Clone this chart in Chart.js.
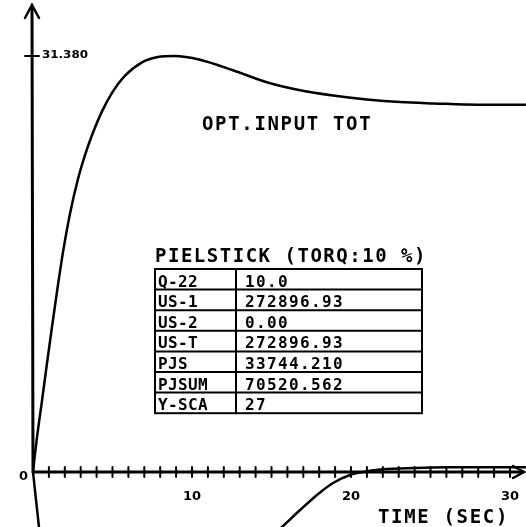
<!DOCTYPE html>
<html>
<head>
<meta charset="utf-8">
<script src="https://cdn.jsdelivr.net/npm/chart.js@4.4.0/dist/chart.umd.min.js"></script>
<style>
  html, body { margin: 0; padding: 0; background: #fff; }
  #wrap { width: 526px; height: 527px; }
</style>
</head>
<body>
<div id="wrap"><canvas id="plot" width="526" height="527"></canvas></div>
<script>
// curve 1 : OPT.INPUT TOT
const timeInput = [0, 0.13, 0.25, 0.57, 0.88, 1.19, 1.51, 1.89, 2.33, 2.83, 3.27, 3.71, 4.34, 4.97, 5.79, 6.86, 7.86, 8.9, 10.5, 12.58, 14.7, 16.8, 18.87, 21, 23.1, 25.2, 28, 31];
const optInputTot = [0, 1.4, 2.6, 5.4, 8.2, 10.9, 13.6, 16.6, 19.5, 22.1, 23.9, 25.4, 27.2, 28.6, 29.9, 30.9, 31.3, 31.38, 31.1, 30.3, 29.4, 28.8, 28.4, 28.1, 27.9, 27.8, 27.7, 27.7];

// curve 2 : drops below the frame, comes back near t=16
const timeSecond = [0, 0.38, 0.8, 1.4, 2, 3, 4, 5, 6, 7, 8, 9, 10, 11, 12, 13, 14, 15, 15.66, 16.8, 17.86, 18.87, 19.94, 20.9, 22, 24, 26, 28, 31];
const secondCurve = [0, -4.2, -8.5, -13.5, -17.5, -22, -24.5, -25.6, -25.2, -23.6, -21.3, -18.6, -15.8, -13, -10.5, -8.2, -6.3, -4.85, -4.15, -2.87, -1.73, -0.83, -0.23, 0.03, 0.2, 0.3, 0.35, 0.35, 0.35];

const xTickLabels = [0, 10, 20, 30];
const yTopLabel = 31.38;
const tableKeys = ["Q-22", "US-1", "US-2", "US-T", "PJS", "PJSUM", "Y-SCA"];
const tableValues = ["10.0", "272896.93", "0.00", "272896.93", "33744.210", "70520.562", "27"];

function toPoints(xs, ys) {
  return xs.map((x, i) => ({ x: x, y: ys[i] }));
}

// plotter style text: one char per fixed cell
function spaced(ctx, text, x, y, pitch) {
  for (let i = 0; i < text.length; i++) {
    ctx.fillText(text[i], x + i * pitch, y);
  }
}

const plotterAxes = {
  id: "plotterAxes",
  afterDraw(chart) {
    const ctx = chart.ctx;
    const xs = chart.scales.x;
    const ys = chart.scales.y;
    const x0 = xs.getPixelForValue(0);
    const y0 = ys.getPixelForValue(0);

    ctx.save();
    ctx.strokeStyle = "#000";
    ctx.fillStyle = "#000";
    ctx.lineCap = "round";

    // axes
    ctx.lineWidth = 3;
    ctx.beginPath();
    ctx.moveTo(x0, y0);
    ctx.lineTo(x0 - 1, 6);
    ctx.moveTo(x0, y0);
    ctx.lineTo(523, y0);
    ctx.stroke();

    // arrow heads
    ctx.lineWidth = 2.5;
    ctx.beginPath();
    ctx.moveTo(x0 - 8, 18);
    ctx.lineTo(x0 - 1, 5);
    ctx.lineTo(x0 + 6, 18);
    ctx.moveTo(513, y0 - 6);
    ctx.lineTo(524, y0);
    ctx.lineTo(513, y0 + 6);
    ctx.stroke();

    // x ticks every second
    ctx.lineWidth = 2;
    ctx.beginPath();
    for (let t = 1; t <= 30; t++) {
      const px = xs.getPixelForValue(t);
      ctx.moveTo(px, y0 - 5);
      ctx.lineTo(px, y0 + 5);
    }
    // y tick at top value
    const yt = ys.getPixelForValue(yTopLabel);
    ctx.moveTo(x0 - 8, yt);
    ctx.lineTo(x0 + 6, yt);
    ctx.stroke();

    // tick labels
    ctx.font = "bold 13px 'DejaVu Sans'";
    ctx.textAlign = "center";
    ctx.textBaseline = "alphabetic";
    xTickLabels.forEach((v) => {
      if (v === 0) return;
      ctx.fillText(String(v), xs.getPixelForValue(v), 500);
    });
    ctx.textAlign = "right";
    ctx.fillText("0", x0 - 5, y0 + 8);

    // squat bold label of the top value
    ctx.textAlign = "left";
    ctx.font = "bold 11px 'DejaVu Sans'";
    const topTxt = yTopLabel.toFixed(3);
    const w = ctx.measureText(topTxt).width;
    ctx.save();
    ctx.translate(x0 + 9, yt + 2);
    ctx.scale(46 / w, 1);
    ctx.fillText(topTxt, 0, 0);
    ctx.restore();

    // curve and axis titles
    ctx.font = "bold 19px 'DejaVu Sans Mono'";
    spaced(ctx, "OPT.INPUT TOT", 202, 130, 13.1);
    spaced(ctx, "TIME (SEC)", 378, 523, 13.1);
    spaced(ctx, "PIELSTICK (TORQ:10 %)", 155, 262, 12.95);

    // parameter table
    const left = 155, right = 422, mid = 236, top = 269, rowH = 20.6;
    ctx.lineWidth = 2;
    ctx.strokeRect(left, top, right - left, rowH * tableKeys.length);
    ctx.beginPath();
    ctx.moveTo(mid, top);
    ctx.lineTo(mid, top + rowH * tableKeys.length);
    for (let i = 1; i < tableKeys.length; i++) {
      ctx.moveTo(left, top + i * rowH);
      ctx.lineTo(right, top + i * rowH);
    }
    ctx.stroke();

    ctx.font = "bold 16px 'DejaVu Sans Mono'";
    tableKeys.forEach((k, i) => {
      const by = top + (i + 1) * rowH - 3;
      spaced(ctx, k, 158, by, 10);
      spaced(ctx, tableValues[i], 245, by, 11);
    });

    ctx.restore();
  },
};

const ctx = document.getElementById("plot").getContext("2d");
new Chart(ctx, {
  type: "line",
  data: {
    datasets: [
      {
        label: "OPT.INPUT TOT",
        data: toPoints(timeInput, optInputTot),
        borderColor: "#000",
        borderWidth: 2.5,
        pointRadius: 0,
        cubicInterpolationMode: "monotone",
        fill: false,
      },
      {
        label: "curve 2",
        data: toPoints(timeSecond, secondCurve),
        borderColor: "#000",
        borderWidth: 2.5,
        pointRadius: 0,
        cubicInterpolationMode: "monotone",
        fill: false,
      },
    ],
  },
  options: {
    responsive: false,
    animation: false,
    layout: { padding: 0 },
    plugins: {
      legend: { display: false },
      tooltip: { enabled: false },
    },
    scales: {
      x: { type: "linear", display: false, min: -2.075, max: 31.006 },
      y: { type: "linear", display: false, min: -4.15, max: 35.6 },
    },
  },
  plugins: [plotterAxes],
});
</script>
</body>
</html>
